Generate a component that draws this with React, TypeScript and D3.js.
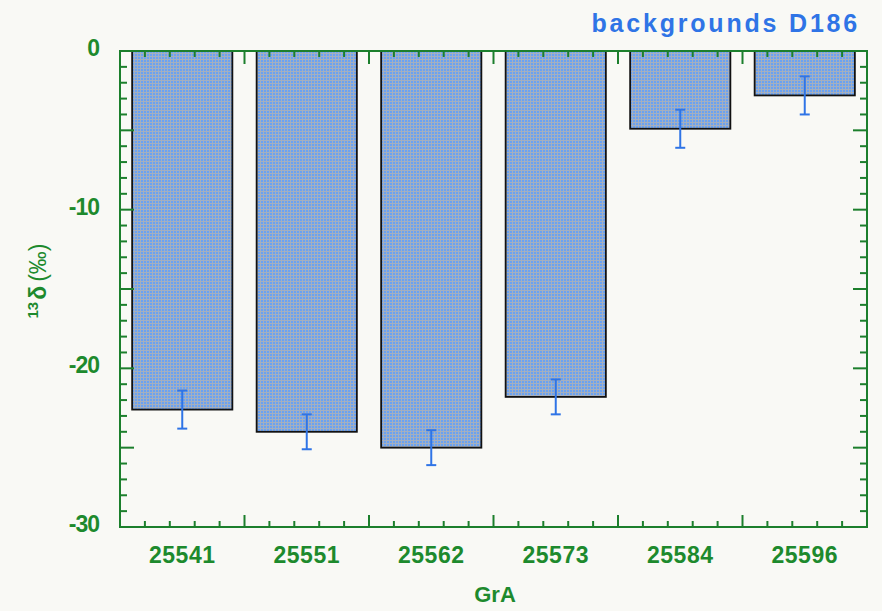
import React from "react";
import * as d3 from "d3";

const categories = ["25541", "25551", "25562", "25573", "25584", "25596"];
const values = [-22.6, -24.0, -25.0, -21.8, -4.9, -2.8];
const errors = [1.2, 1.1, 1.1, 1.1, 1.2, 1.2];
const yTickLabels = [0, -10, -20, -30];

const W = 882;
const H = 611;
const M = { left: 120, right: 15, top: 51, bottom: 84 };

const GREEN = "#1c7f2c";
const TEXT_GREEN = "#1d8a2d";
const BLUE = "#2f74e6";
const FONT = "Liberation Sans, Arial, sans-serif";

export default function App() {
  const x = d3
    .scaleBand<string>()
    .domain(categories)
    .range([M.left, W - M.right])
    .paddingInner(0.195)
    .paddingOuter(0.0975);
  const y = d3.scaleLinear().domain([0, -30]).range([M.top, H - M.bottom]);
  const step = x.step();
  const x0 = M.left;
  const x1 = W - M.right;
  const y0 = y(0);
  const y1 = y(-30);

  const xTicks: { pos: number; major: boolean }[] = [];
  for (let i = 0; i < categories.length; i++) {
    for (let k = 0; k < 5; k++) {
      if (i === 0 && k === 0) continue;
      xTicks.push({ pos: x0 + i * step + (k * step) / 5, major: k === 0 });
    }
  }
  const yTicks = d3.range(-1, -30, -1).map((v) => ({ v, major: v % 5 === 0 }));

  return (
    <div>
      <style>{`body{margin:0;background:#f9f9f5}`}</style>
      <svg width={W} height={H} style={{ display: "block", background: "#f9f9f5" }}>
        <defs>
          <pattern id="dots" width={3} height={3} patternUnits="userSpaceOnUse">
            <rect width={3} height={3} fill="#a4afbf" />
            <rect width={2} height={2} fill="#6aa2f2" />
          </pattern>
        </defs>

        {categories.map((c, i) => {
          const bx = x(c)!;
          const top = y(0);
          const bot = y(values[i]);
          return (
            <rect
              key={c}
              x={bx}
              y={top}
              width={x.bandwidth()}
              height={bot - top}
              fill="url(#dots)"
              stroke="#111"
              strokeWidth={1.8}
            />
          );
        })}

        {categories.map((c, i) => {
          const cx = x(c)! + x.bandwidth() / 2;
          const ya = y(values[i] + errors[i]);
          const yb = y(values[i] - errors[i]);
          return (
            <g key={"e" + c} stroke={BLUE} strokeWidth={2}>
              <line x1={cx} x2={cx} y1={ya} y2={yb} />
              <line x1={cx - 5} x2={cx + 5} y1={ya} y2={ya} />
              <line x1={cx - 5} x2={cx + 5} y1={yb} y2={yb} />
            </g>
          );
        })}

        <rect x={x0} y={y0} width={x1 - x0} height={y1 - y0} fill="none" stroke={GREEN} strokeWidth={2} />

        {xTicks.map((t, i) => (
          <g key={"xt" + i} stroke={GREEN} strokeWidth={2}>
            <line x1={t.pos} x2={t.pos} y1={y1} y2={y1 - (t.major ? 12 : 6)} />
            <line x1={t.pos} x2={t.pos} y1={y0} y2={y0 + (t.major ? 13 : 6)} />
          </g>
        ))}

        {yTicks.map((t) => (
          <g key={"yt" + t.v} stroke={GREEN} strokeWidth={2}>
            <line x1={x0} x2={x0 + (t.major ? 14 : 7)} y1={y(t.v)} y2={y(t.v)} />
            <line x1={x1} x2={x1 - (t.major ? 14 : 7)} y1={y(t.v)} y2={y(t.v)} />
          </g>
        ))}

        {yTickLabels.map((v) => (
          <text
            key={"yl" + v}
            x={99}
            y={y(v) + 5}
            textAnchor="end"
            fill={TEXT_GREEN}
            fontFamily={FONT}
            fontWeight="bold"
            fontSize={23}
            letterSpacing={-1}
          >
            {v}
          </text>
        ))}

        {categories.map((c) => (
          <text
            key={"xl" + c}
            x={x(c)! + x.bandwidth() / 2}
            y={563}
            textAnchor="middle"
            fill={TEXT_GREEN}
            fontFamily={FONT}
            fontWeight="bold"
            fontSize={23}
            letterSpacing={0.5}
          >
            {c}
          </text>
        ))}

        <text
          x={495}
          y={602}
          textAnchor="middle"
          fill={TEXT_GREEN}
          fontFamily={FONT}
          fontWeight="bold"
          fontSize={22}
        >
          GrA
        </text>

        <text
          transform="translate(46,281) rotate(-90)"
          fill={TEXT_GREEN}
          fontFamily={FONT}
          fontWeight="bold"
          fontSize={23}
          textAnchor="middle"
        >
          <tspan fontSize={15} dy={-8}>13</tspan>
          <tspan dy={8} dx={2}>δ</tspan>
          <tspan fontWeight="normal" dx={4}>(‰)</tspan>
        </text>

        <text
          x={860}
          y={32}
          textAnchor="end"
          fill={BLUE}
          fontFamily={FONT}
          fontWeight="bold"
          fontSize={25}
          letterSpacing={2.8}
        >
          backgrounds D186
        </text>
      </svg>
    </div>
  );
}
